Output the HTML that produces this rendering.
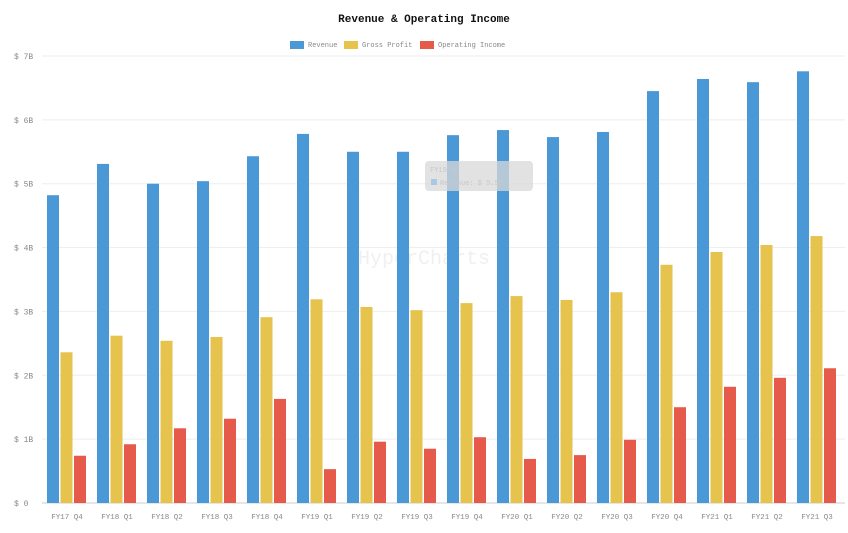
<!DOCTYPE html>
<html><head><meta charset="utf-8"><style>
body{margin:0;background:#fff;font-family:"Liberation Mono",monospace;}
svg text{font-family:"Liberation Mono",monospace;}
</style></head><body>
<svg id="chart" width="848" height="528">
<text x="424" y="22" text-anchor="middle" font-size="11" font-weight="bold" fill="#111">Revenue &amp; Operating Income</text>
<g font-size="7" fill="#888">
 <g><rect x="290" y="41" width="14" height="8" fill="#4a98d6"/><text x="308" y="47">Revenue</text></g>
 <g><rect x="344" y="41" width="14" height="8" fill="#e6c34c"/><text x="362" y="47">Gross Profit</text></g>
 <g><rect x="420" y="41" width="14" height="8" fill="#e55a4a"/><text x="438" y="47">Operating Income</text></g>
</g>
<g id="grid"></g>
<text x="424" y="264" text-anchor="middle" font-size="20" fill="#f0f0f0">HyperCharts</text>
<g id="bars"></g>
<g id="xlabels"></g>
<g>
 <rect x="425" y="161" width="108" height="30" rx="4" fill="#d8d8d8" opacity="0.75"/>
 <rect x="431" y="179" width="6" height="6" fill="#a8c8e8"/>
 <text x="430" y="172" font-size="7" fill="#c8c8c8">FY19 Q3</text>
 <text x="440" y="185" font-size="7" fill="#c8c8c8">Revenue: $ 5.5B</text>
</g>
</svg>
<script>
const categories=["FY17 Q4","FY18 Q1","FY18 Q2","FY18 Q3","FY18 Q4","FY19 Q1","FY19 Q2","FY19 Q3","FY19 Q4","FY20 Q1","FY20 Q2","FY20 Q3","FY20 Q4","FY21 Q1","FY21 Q2","FY21 Q3"];
const revenue=[4.82,5.31,5.0,5.04,5.43,5.78,5.50,5.50,5.76,5.84,5.73,5.81,6.45,6.64,6.59,6.76];
const grossProfit=[2.36,2.62,2.54,2.60,2.91,3.19,3.07,3.02,3.13,3.24,3.18,3.30,3.73,3.93,4.04,4.18];
const operatingIncome=[0.74,0.92,1.17,1.32,1.63,0.53,0.96,0.85,1.03,0.69,0.75,0.99,1.50,1.82,1.96,2.11];
const yTicks=[0,1,2,3,4,5,6,7];
const yTickLabels=["$ 0","$ 1B","$ 2B","$ 3B","$ 4B","$ 5B","$ 6B","$ 7B"];
const NS="http://www.w3.org/2000/svg";
const X0=42,BAND=50,Y0=503,PX=63.86;
function y(v){return Y0-v*PX;}
function x(i){return X0+i*BAND;}
const grid=document.getElementById('grid');
yTicks.forEach((t,i)=>{
 const l=document.createElementNS(NS,'line');
 l.setAttribute('x1',X0);l.setAttribute('x2',845);l.setAttribute('y1',y(t));l.setAttribute('y2',y(t));
 l.setAttribute('stroke',t===0?'#ccc':'#eee');l.setAttribute('stroke-width','1');
 
 
 grid.appendChild(l);
 const tx=document.createElementNS(NS,'text');
 tx.setAttribute('x',14);tx.setAttribute('y',y(t)+3);tx.setAttribute('font-size','8');tx.setAttribute('fill','#888');
 tx.textContent=yTickLabels[i];
 
 
 grid.appendChild(tx);
});
const bars=document.getElementById('bars');
const series=[[revenue,'#4a98d6','revenue'],[grossProfit,'#e6c34c','gross-profit'],[operatingIncome,'#e55a4a','operating-income']];
categories.forEach((c,i)=>{
 series.forEach((s,j)=>{
  const r=document.createElementNS(NS,'rect');
  const v=s[0][i];
  r.setAttribute('x',x(i)+5+j*13.5);r.setAttribute('width',12);
  r.setAttribute('y',y(v));r.setAttribute('height',v*PX);
  r.setAttribute('fill',s[1]);
  
  
  bars.appendChild(r);
 });
 const t=document.createElementNS(NS,'text');
 t.setAttribute('x',x(i)+25);t.setAttribute('y',519);t.setAttribute('text-anchor','middle');
 t.setAttribute('font-size','7.5');t.setAttribute('fill','#888');
 t.textContent=c;
 
 
 document.getElementById('xlabels').appendChild(t);
});
</script>
</body></html>
